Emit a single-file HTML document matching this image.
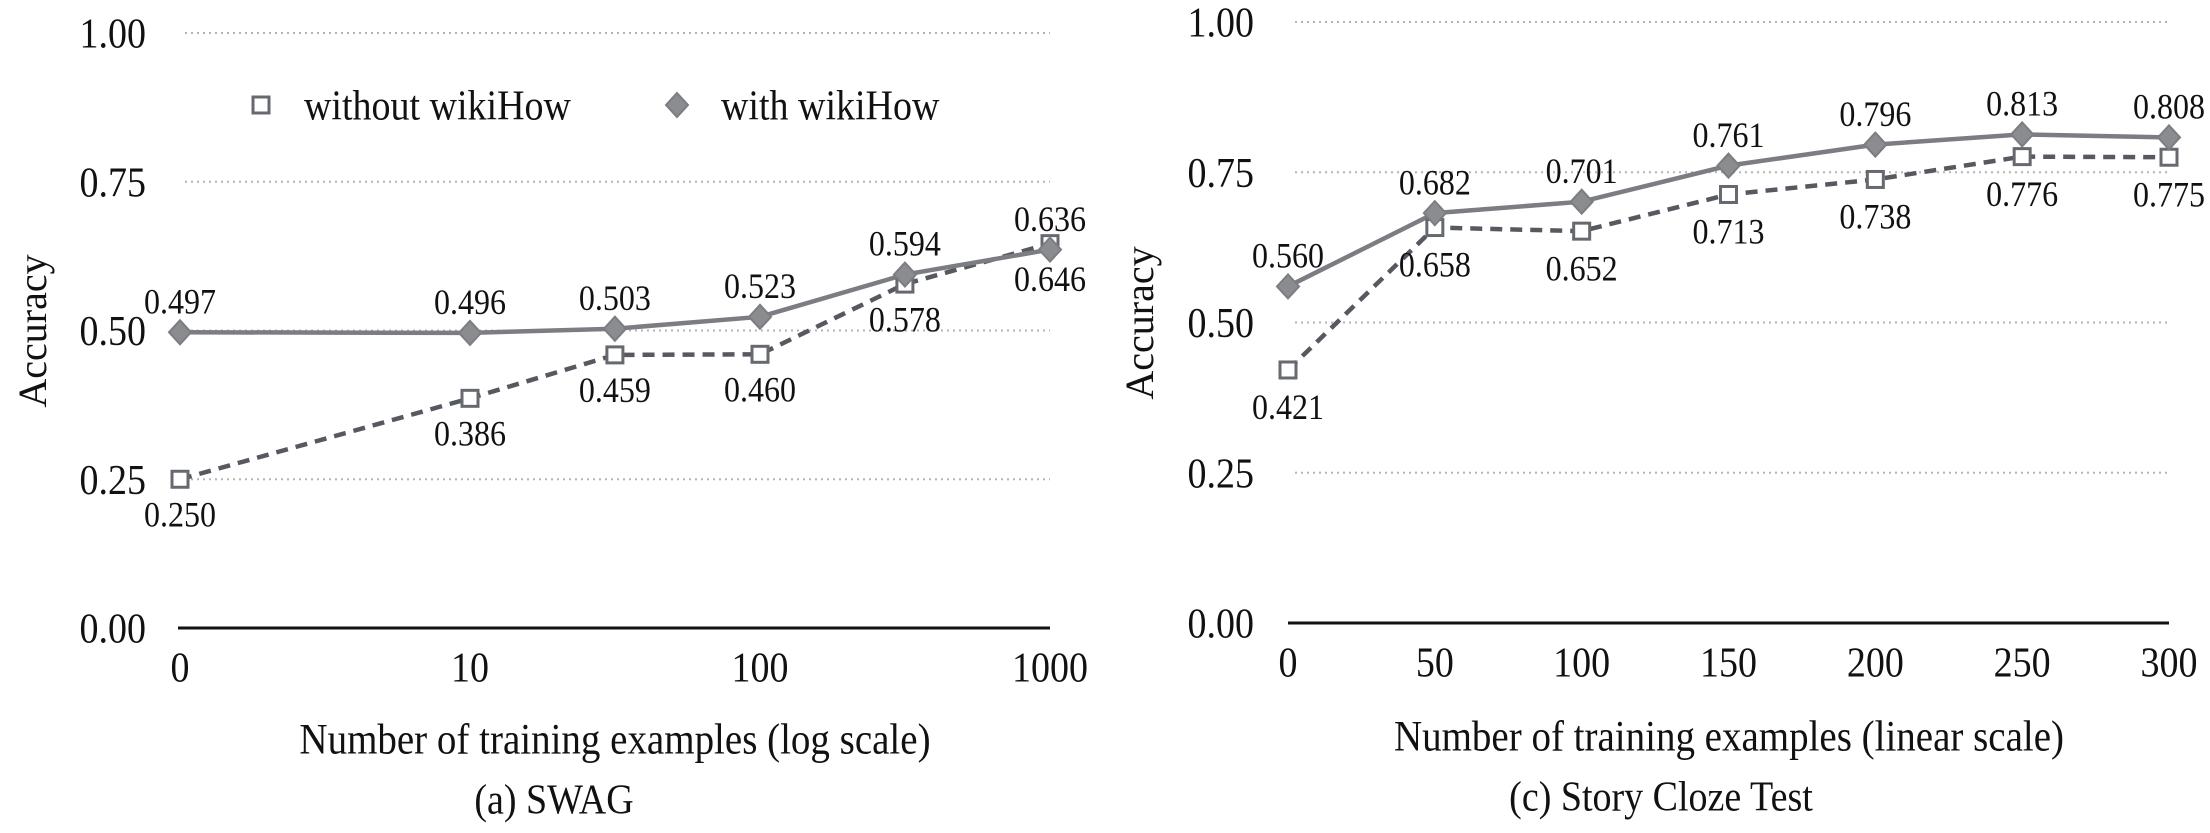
<!DOCTYPE html>
<html><head><meta charset="utf-8">
<style>
html,body{margin:0;padding:0;background:#fff;}
svg{display:block;font-family:"Liberation Serif","DejaVu Serif",serif;}
text.s{transform-box:fill-box;transform-origin:center;transform:scaleY(1.12);}
</style></head>
<body>
<svg id="chart" width="2210" height="833" viewBox="0 0 2210 833" xmlns="http://www.w3.org/2000/svg">
<g id="left"></g>
<g id="right"></g>
</svg>
<script>
// SWAG (log scale)
const swagX = [0, 10, 31.6, 100, 316, 1000];
const swagWithout = [0.250, 0.386, 0.459, 0.460, 0.578, 0.646];
const swagWith = [0.497, 0.496, 0.503, 0.523, 0.594, 0.636];
const swagTicks = [0, 10, 100, 1000];
// Story Cloze (linear)
const clozeX = [0, 50, 100, 150, 200, 250, 300];
const clozeWithout = [0.421, 0.658, 0.652, 0.713, 0.738, 0.776, 0.775];
const clozeWith = [0.560, 0.682, 0.701, 0.761, 0.796, 0.813, 0.808];
const clozeTicks = [0, 50, 100, 150, 200, 250, 300];
const yTicks = [0, 0.25, 0.5, 0.75, 1.0];

const NS = "http://www.w3.org/2000/svg";
function mk(parent, tag, attrs, text){
  const e = document.createElementNS(NS, tag);
  for (const k in attrs) e.setAttribute(k, attrs[k]);
  if (text !== undefined) e.textContent = text;
  parent.appendChild(e);
  return e;
}
const WITH_C = "#7b7d82", WITHOUT_C = "#565a60";

function square(g, x, y, name){
  const r = mk(g, "rect", {x:x-8, y:y-8, width:16, height:16, fill:"#fff", stroke:"#666a70", "stroke-width":3});
  
  
}
function diamond(g, x, y, name){
  const p = mk(g, "polygon", {points:`${x},${y-12} ${x+11},${y} ${x},${y+12} ${x-11},${y}`, fill:"#8b8c8f", stroke:"#7b7d82", "stroke-width":2});
  
  
}

function panel(g, cfg){
  const xs = cfg.xs, ys = v => cfg.y0 - v*(cfg.y0-cfg.y1);
  yTicks.forEach(t=>{
    const y = ys(t);
    if (t > 0){
      const l = mk(g, "line", {x1:cfg.gx0, x2:cfg.gx1, y1:y, y2:y, stroke:"#b5b5b5", "stroke-width":2, "stroke-dasharray":"2 4"});
      
      
    }
    const tx = mk(g, "text", {class:"s", x:cfg.tickRight, y:y+13, "font-size":38, "text-anchor":"end", fill:"#111"}, t.toFixed(2));
    
    
  });
  const ax = mk(g, "line", {x1:cfg.ax0, x2:cfg.gx1, y1:cfg.y0, y2:cfg.y0, stroke:"#111", "stroke-width":3});
  
  
  cfg.ticks.forEach(t=>{
    const tx = mk(g, "text", {class:"s", x:xs(t), y:cfg.y0+52, "font-size":38, "text-anchor":"middle", fill:"#111"}, String(t));
    
    
  });
  const ptsWo = cfg.x.map((v,i)=>`${xs(v)},${ys(cfg.wo[i])}`).join(" ");
  const ptsW = cfg.x.map((v,i)=>`${xs(v)},${ys(cfg.w[i])}`).join(" ");
  const l1 = mk(g, "polyline", {points:ptsWo, fill:"none", stroke:WITHOUT_C, "stroke-width":4.5, "stroke-dasharray":"12 8"});
  
  
  const l2 = mk(g, "polyline", {points:ptsW, fill:"none", stroke:WITH_C, "stroke-width":4.5});
  
  
  cfg.x.forEach((v,i)=>{
    square(g, xs(v), ys(cfg.wo[i]), 'without-wikihow-point');
    diamond(g, xs(v), ys(cfg.w[i]), 'with-wikihow-point');
    const a = mk(g, "text", {class:"s", x:xs(v), y:ys(cfg.w[i])-cfg.upOff, "font-size":32, "text-anchor":"middle", fill:"#111"}, cfg.w[i].toFixed(3));
    
    
    const b = mk(g, "text", {class:"s", x:xs(v), y:ys(cfg.wo[i])+cfg.downOff, "font-size":32, "text-anchor":"middle", fill:"#111"}, cfg.wo[i].toFixed(3));
    
    
  });
  const yt = mk(g, "text", {x:0, y:0, "font-size":40, "text-anchor":"middle", fill:"#111", transform:`translate(${cfg.yTitleX},${cfg.yTitleY}) rotate(-90)`}, "Accuracy");
  
  
  const xt = mk(g, "text", {class:"s", x:cfg.xTitleX, y:cfg.xTitleY, "font-size":39, "text-anchor":"middle", fill:"#111"}, cfg.xTitle);
  
  
  const cp = mk(g, "text", {class:"s", x:cfg.capX, y:cfg.capY, "font-size":38, "text-anchor":"middle", fill:"#111"}, cfg.cap);
  
  
}

const L = document.getElementById("left");
panel(L, {
  x: swagX, wo: swagWithout, w: swagWith, ticks: swagTicks,
  xs: v => 180 + (v<=0 ? 0 : Math.log10(v)) * 290,
  y0: 628, y1: 33, gx0: 185, gx1: 1050, ax0: 178, tickRight: 146,
  upOff: 20, downOff: 46,
  yTitleX: 46, yTitleY: 331, xTitleX: 615, xTitleY: 752, xTitle: "Number of training examples (log scale)",
  capX: 554, capY: 812, cap: "(a) SWAG"
});
const R = document.getElementById("right");
panel(R, {
  x: clozeX, wo: clozeWithout, w: clozeWith, ticks: clozeTicks,
  xs: v => 1288 + v/300 * 881,
  y0: 623, y1: 22, gx0: 1295, gx1: 2169, ax0: 1288, tickRight: 1254,
  upOff: 20, downOff: 48,
  yTitleX: 1153, yTitleY: 323, xTitleX: 1729, xTitleY: 749, xTitle: "Number of training examples (linear scale)",
  capX: 1661, capY: 809, cap: "(c) Story Cloze Test"
});
const lg = mk(L, "g", {});


square(lg, 261, 105, 'legend-without-wikihow-marker');
const t1 = mk(lg, "text", {class:"s", x:304, y:118, "font-size":38, fill:"#111"}, "without wikiHow");


diamond(lg, 677, 105, 'legend-with-wikihow-marker');
const t2 = mk(lg, "text", {class:"s", x:721, y:118, "font-size":38, fill:"#111"}, "with wikiHow");


</script>
</body></html>
